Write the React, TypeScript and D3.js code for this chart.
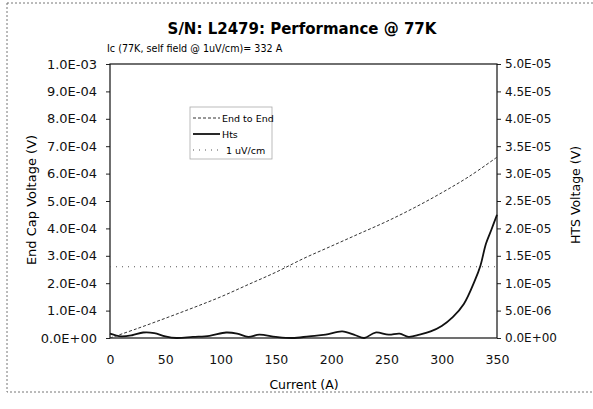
import React, { useEffect, useRef } from 'react';
import * as d3 from 'd3';

// current (A) sample points, shared by both measured series
const endCurrent = [0, 25, 50, 75, 100, 125, 150, 175, 200, 225, 250, 275, 300, 325, 350];
// end-to-end voltage (V), left axis
const endVoltage = [0.0, 0.35e-4, 0.72e-4, 1.1e-4, 1.5e-4, 1.95e-4, 2.4e-4, 2.9e-4, 3.35e-4, 3.8e-4, 4.25e-4, 4.75e-4, 5.3e-4, 5.9e-4, 6.6e-4];

const htsCurrent = [0, 10, 20, 30, 40, 50, 60, 75, 90, 105, 115, 125, 135, 150, 165, 180, 195, 210, 222, 230, 240, 252, 262, 270, 280, 290, 300, 310, 320, 330, 335, 340, 345, 350];
// HTS voltage (V), right axis
const htsVoltage = [0.08e-5, 0.03e-5, 0.05e-5, 0.1e-5, 0.09e-5, 0.03e-5, 0.0, 0.02e-5, 0.04e-5, 0.1e-5, 0.08e-5, 0.02e-5, 0.06e-5, 0.02e-5, 0.0, 0.03e-5, 0.06e-5, 0.12e-5, 0.05e-5, 0.0, 0.1e-5, 0.06e-5, 0.08e-5, 0.02e-5, 0.06e-5, 0.12e-5, 0.22e-5, 0.38e-5, 0.62e-5, 1.05e-5, 1.32e-5, 1.72e-5, 1.98e-5, 2.25e-5];

// 1 uV/cm criterion (right axis)
const criterionCurrent = [0, 350];
const criterionVoltage = [1.3e-5, 1.3e-5];

const xTicks = [0, 50, 100, 150, 200, 250, 300, 350];
const leftTicks = [0, 1e-4, 2e-4, 3e-4, 4e-4, 5e-4, 6e-4, 7e-4, 8e-4, 9e-4, 1e-3];
const rightTicks = [0, 5e-6, 1e-5, 1.5e-5, 2e-5, 2.5e-5, 3e-5, 3.5e-5, 4e-5, 4.5e-5, 5e-5];

const seriesNames = ['End to End', 'Hts', '1 uV/cm'];

const fmt = (v: number) => {
  if (v === 0) return '0.0E+00';
  const e = Math.floor(Math.log10(v) + 1e-9);
  const m = v / Math.pow(10, e);
  const sign = e < 0 ? '-' : '+';
  return `${m.toFixed(1)}E${sign}${String(Math.abs(e)).padStart(2, '0')}`;
};

export default function App() {
  const node = useRef<SVGSVGElement>(null);

  useEffect(() => {
    const svg = d3.select(node.current);
    svg.selectAll('*').remove();
    const font = 'DejaVu Sans, sans-serif';

    const left = 110, right = 497, top = 64, bottom = 338;
    const x = d3.scaleLinear().domain([0, 350]).range([left, right]);
    const yL = d3.scaleLinear().domain([0, 1e-3]).range([bottom, top]);
    const yR = d3.scaleLinear().domain([0, 5e-5]).range([bottom, top]);

    svg.append('rect').attr('width', 593).attr('height', 409).attr('fill', 'white');

    // dotted chart area border
    svg.append('rect')
      .attr('x', 7).attr('y', 3).attr('width', 600).attr('height', 389)
      .attr('fill', 'none').attr('stroke', '#777').attr('stroke-width', 1)
      .attr('stroke-dasharray', '2,2');

    svg.append('text')
      .attr('x', 302).attr('y', 34)
      .attr('text-anchor', 'middle')
      .style('font-family', font).style('font-weight', 'bold').style('font-size', '15px')
      .text('S/N: L2479: Performance @ 77K');

    svg.append('text')
      .attr('x', 107).attr('y', 52)
      .style('font-family', font).style('font-size', '9.6px')
      .text('Ic (77K, self field @ 1uV/cm)= 332 A');

    // axes
    const gx = svg.append('g').attr('transform', `translate(0,${bottom})`)
      .call(d3.axisBottom(x).tickValues(xTicks).tickSize(0).tickPadding(17).tickFormat(d => String(d)));
    const gl = svg.append('g').attr('transform', `translate(${left},0)`)
      .call(d3.axisLeft(yL).tickValues(leftTicks).tickSize(4).tickPadding(9).tickFormat(d => fmt(+d)));
    const gr = svg.append('g').attr('transform', `translate(${right},0)`)
      .call(d3.axisRight(yR).tickValues(rightTicks).tickSize(4).tickPadding(4).tickFormat(d => fmt(+d)));
    [gx, gl, gr].forEach(g => {
      g.select('.domain').remove();
      g.selectAll('text').style('font-family', font).attr('fill', '#111');
      g.selectAll('line').attr('stroke', '#222');
    });
    gx.selectAll('text').style('font-size', '12.5px');
    gl.selectAll('text').style('font-size', '13px');
    gr.selectAll('text').style('font-size', '12px');

    svg.append('rect')
      .attr('x', left).attr('y', top).attr('width', right - left).attr('height', bottom - top)
      .attr('fill', 'none').attr('stroke', '#111').attr('stroke-width', 1.2);

    svg.append('text')
      .attr('x', 304).attr('y', 389)
      .attr('text-anchor', 'middle')
      .style('font-family', font).style('font-size', '12.5px')
      .text('Current (A)');
    svg.append('text')
      .attr('transform', 'translate(36,200) rotate(-90)')
      .attr('text-anchor', 'middle')
      .style('font-family', font).style('font-size', '13px')
      .text('End Cap Voltage (V)');
    svg.append('text')
      .attr('transform', 'translate(580,195) rotate(-90)')
      .attr('text-anchor', 'middle')
      .style('font-family', font).style('font-size', '12.5px')
      .text('HTS Voltage (V)');

    const line = (ys: d3.ScaleLinear<number, number>) =>
      d3.line<[number, number]>().x(d => x(d[0])).y(d => ys(d[1])).curve(d3.curveCatmullRom);

    svg.append('path')
      .datum(criterionCurrent.map((c, i) => [c, criterionVoltage[i]] as [number, number]))
      .attr('d', line(yR))
      .attr('fill', 'none').attr('stroke', '#555').attr('stroke-width', 1.2)
      .attr('stroke-dasharray', '1,5');

    svg.append('path')
      .datum(endCurrent.map((c, i) => [c, endVoltage[i]] as [number, number]))
      .attr('d', line(yL))
      .attr('fill', 'none').attr('stroke', '#333').attr('stroke-width', 1)
      .attr('stroke-dasharray', '3,2');

    svg.append('path')
      .datum(htsCurrent.map((c, i) => [c, htsVoltage[i]] as [number, number]))
      .attr('d', line(yR))
      .attr('fill', 'none').attr('stroke', '#111').attr('stroke-width', 1.8);

    // legend
    const lg = svg.append('g').attr('transform', 'translate(190,107)');
    lg.append('rect').attr('width', 82).attr('height', 52)
      .attr('fill', 'white').attr('stroke', '#aaa').attr('stroke-width', 0.8);
    const styles = [
      { stroke: '#333', w: 1, dash: '3,2' },
      { stroke: '#111', w: 1.8, dash: null },
      { stroke: '#555', w: 1.2, dash: '1,5' },
    ];
    seriesNames.forEach((name, i) => {
      const yy = 11 + i * 16;
      lg.append('line')
        .attr('x1', 3).attr('x2', 30).attr('y1', yy).attr('y2', yy)
        .attr('stroke', styles[i].stroke).attr('stroke-width', styles[i].w)
        .attr('stroke-dasharray', styles[i].dash);
      lg.append('text')
        .attr('x', i === 2 ? 36 : 32).attr('y', yy + 3.5)
        .style('font-family', font).style('font-size', '9.5px')
        .text(name);
    });
  }, []);

  return (
    <svg ref={node} width={593} height={409} style={{ position: 'absolute', left: 0, top: 0 }} />
  );
}
